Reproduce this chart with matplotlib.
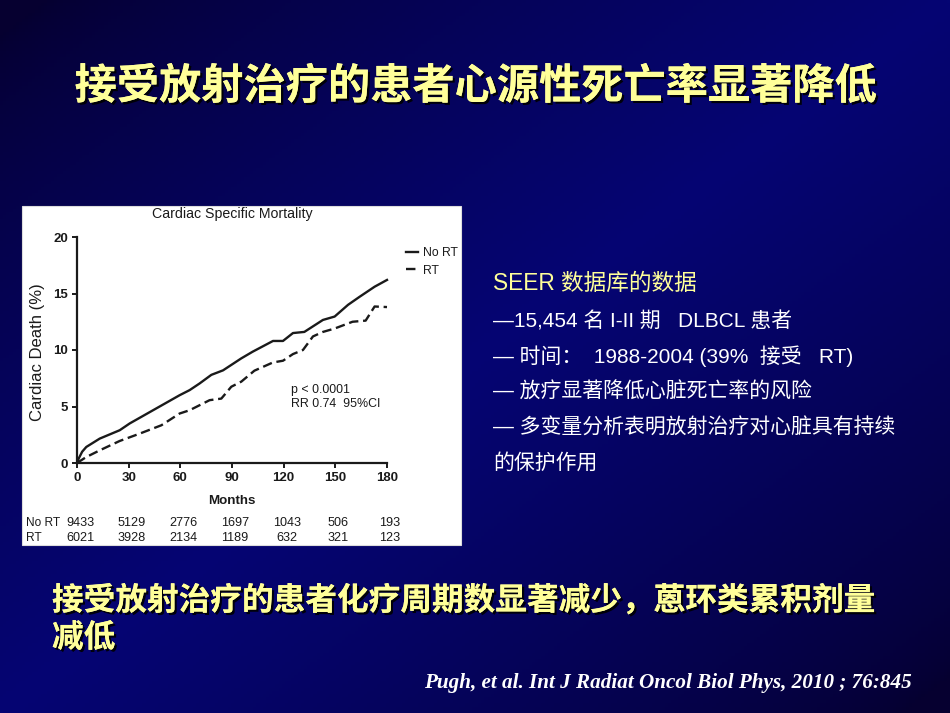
import numpy as np
import matplotlib
matplotlib.use("Agg")
import matplotlib.pyplot as plt
import matplotlib.transforms as mtransforms
import matplotlib.patheffects as pe
from matplotlib.patches import Rectangle

# ---------------- data ----------------
no_rt_months = [0, 1, 3, 5.4, 13.2, 24.8, 30.6, 48, 59.6, 65.4, 71.2, 78, 84.8, 95.4, 102,
                113.8, 119.6, 125.4, 132, 142.8, 149.6, 157.4, 164, 172.8, 180]
no_rt_death = [0, 0.4, 1.0, 1.42, 2.16, 2.9, 3.5, 5.0, 6.0, 6.45, 7.04, 7.8, 8.2, 9.26, 9.85,
               10.8, 10.8, 11.5, 11.6, 12.66, 12.96, 14.0, 14.7, 15.6, 16.2]
rt_months = [0, 5.4, 13.2, 24.8, 36.4, 49, 59.6, 65.4, 77, 83.8, 89.6, 95.4, 103, 113.8,
             119.6, 125.4, 131.2, 137, 142.8, 149.6, 160, 167.6, 172.8, 180]
rt_death = [0, 0.53, 1.12, 1.95, 2.6, 3.34, 4.38, 4.67, 5.56, 5.7, 6.75, 7.2, 8.17, 8.9,
            9.05, 9.64, 10.0, 11.2, 11.6, 11.9, 12.5, 12.6, 13.85, 13.8]
x_ticks = [0, 30, 60, 90, 120, 150, 180]
y_ticks = [0, 5, 10, 15, 20]
risk_no_rt = ["9433", "5129", "2776", "1697", "1043", "506", "193"]
risk_rt = ["6021", "3928", "2134", "1189", "632", "321", "123"]

title_text = "接受放射治疗的患者心源性死亡率显著降低"
bullets_head = "SEER 数据库的数据"
bullets = ["—15,454 名 I-II 期   DLBCL 患者",
           "— 时间：  1988-2004 (39%  接受   RT)",
           "— 放疗显著降低心脏死亡率的风险",
           "— 多变量分析表明放射治疗对心脏具有持续",
           "的保护作用"]
bottom_lines = ["接受放射治疗的患者化疗周期数显著减少，蒽环类累积剂量", "减低"]
citation = "Pugh, et al. Int J Radiat Oncol Biol Phys, 2010 ; 76:845"

# ---------------- figure ----------------
W, H = 950, 713
fig = plt.figure(figsize=(W / 100, H / 100), dpi=100)

def fx(px):
    return px / W

def fy(py):
    return 1 - py / H

# background gradient (diagonal: dark corners TL/BR, brighter band in middle)
bg = fig.add_axes([0, 0, 1, 1], zorder=-3)
gx, gy = np.meshgrid(np.linspace(0, 1, 300), np.linspace(0, 1, 225))
t = (gx + gy) / 2
k = np.clip(1 - np.abs(2 * t - 1) * 1.05, 0, 1) ** 0.7
dark = np.array([6, 0, 48]) / 255
bright = np.array([5, 5, 115]) / 255
img = dark[None, None, :] * (1 - k[..., None]) + bright[None, None, :] * k[..., None]
bg.imshow(img, aspect="auto", extent=[0, 1, 0, 1], origin="upper")
bg.set_axis_off()

# white chart panel
fig.patches.append(Rectangle((fx(22), fy(545)), fx(461) - fx(22), fy(206) - fy(545),
                             transform=fig.transFigure, facecolor="white",
                             edgecolor="#dddddd", lw=0.8, zorder=-1))

CJK = ["Liberation Sans", "Noto Sans CJK SC", "DejaVu Sans"]
ARIAL = ["Liberation Sans", "DejaVu Sans"]
ink = "#1a1a1a"

ax = fig.add_axes([fx(77), fy(463), fx(387) - fx(77), fy(237) - fy(463)])
ax.set_facecolor("none")
l1, = ax.plot(no_rt_months, no_rt_death, color=ink, lw=1.7, label="No RT", clip_on=False)
l2, = ax.plot(rt_months, rt_death, color=ink, lw=1.7, ls=(0, (4, 2)), label="RT", clip_on=False)
ax.set_xlim(0, 180)
ax.set_ylim(0, 20)
ax.set_xticks(x_ticks)
ax.set_yticks(y_ticks)
for s in ["top", "right"]:
    ax.spines[s].set_visible(False)
for s in ["left", "bottom"]:
    ax.spines[s].set_linewidth(1.6)
    ax.spines[s].set_color(ink)
ax.tick_params(direction="out", length=3.5, width=1.4, colors=ink, pad=3)
for lab in ax.get_xticklabels() + ax.get_yticklabels():
    lab.set_fontweight("bold")
    lab.set_fontsize(9.5)
    lab.set_family(ARIAL)

leg = ax.legend(handles=[l1, l2], loc="upper left", bbox_to_anchor=(fx(406), fy(247)),
                bbox_transform=fig.transFigure, frameon=False, handlelength=1.0,
                handletextpad=0.4, labelspacing=0.45, borderpad=0, borderaxespad=0,
                prop={"family": ARIAL, "size": 8.8})
for tx in leg.get_texts():
    tx.set_color(ink)

fig.text(fx(232), fy(214), "Cardiac Specific Mortality", ha="center", va="center",
         fontsize=10.2, color=ink, family=ARIAL)
fig.text(fx(38), fy(352), "Cardiac Death (%)", ha="center", va="center", rotation=90,
         fontsize=12, color=ink, family=ARIAL)
fig.text(fx(232), fy(501), "Months", ha="center", va="center", fontsize=9.6,
         fontweight="bold", color=ink, family=ARIAL)
ax.text(124.3, 5.84, "p < 0.0001\nRR 0.74  95%CI", ha="left", va="center",
        fontsize=8.9, color=ink, family=ARIAL, linespacing=1.15)

# at-risk table
blend = mtransforms.blended_transform_factory(ax.transData, fig.transFigure)
off = mtransforms.ScaledTranslation(3 / 100, 0, fig.dpi_scale_trans)
fig.text(fx(26), fy(523), "No RT", ha="left", va="center", fontsize=8.6, color=ink, family=ARIAL)
fig.text(fx(26), fy(538), "RT", ha="left", va="center", fontsize=8.6, color=ink, family=ARIAL)
for xm, a, b in zip(x_ticks, risk_no_rt, risk_rt):
    ax.text(xm, fy(523), a, transform=blend + off, ha="center", va="center",
            fontsize=9.1, color=ink, family=ARIAL, clip_on=False)
    ax.text(xm, fy(538), b, transform=blend + off, ha="center", va="center",
            fontsize=9.1, color=ink, family=ARIAL, clip_on=False)

# slide texts
yellow = "#FFFF99"
shadow = [pe.withSimplePatchShadow(offset=(1.6, -1.6), shadow_rgbFace="black", alpha=0.9), pe.Normal()]
fig.text(fx(476), fy(87), title_text, ha="center", va="center", fontsize=30.4,
         fontweight="bold", color=yellow, family=["Noto Sans CJK SC"], path_effects=shadow)

fig.text(fx(493), fy(283), bullets_head, ha="left", va="center", fontsize=16.3,
         color=yellow, family=CJK)
for i, line in enumerate(bullets):
    fig.text(fx(493), fy(321 + i * 35.5), line, ha="left", va="center", fontsize=15.0,
             color="white", family=CJK)

for i, line in enumerate(bottom_lines):
    fig.text(fx(52), fy(601 + i * 37), line, ha="left", va="center", fontsize=22.8,
             fontweight="bold", color=yellow, family=["Noto Sans CJK SC"], path_effects=shadow)

fig.text(fx(912), fy(683), citation, ha="right", va="center", fontsize=15.2,
         fontweight="bold", fontstyle="italic", color="white",
         family=["Liberation Serif", "DejaVu Serif"])

fig.savefig("out.png", dpi=100)
